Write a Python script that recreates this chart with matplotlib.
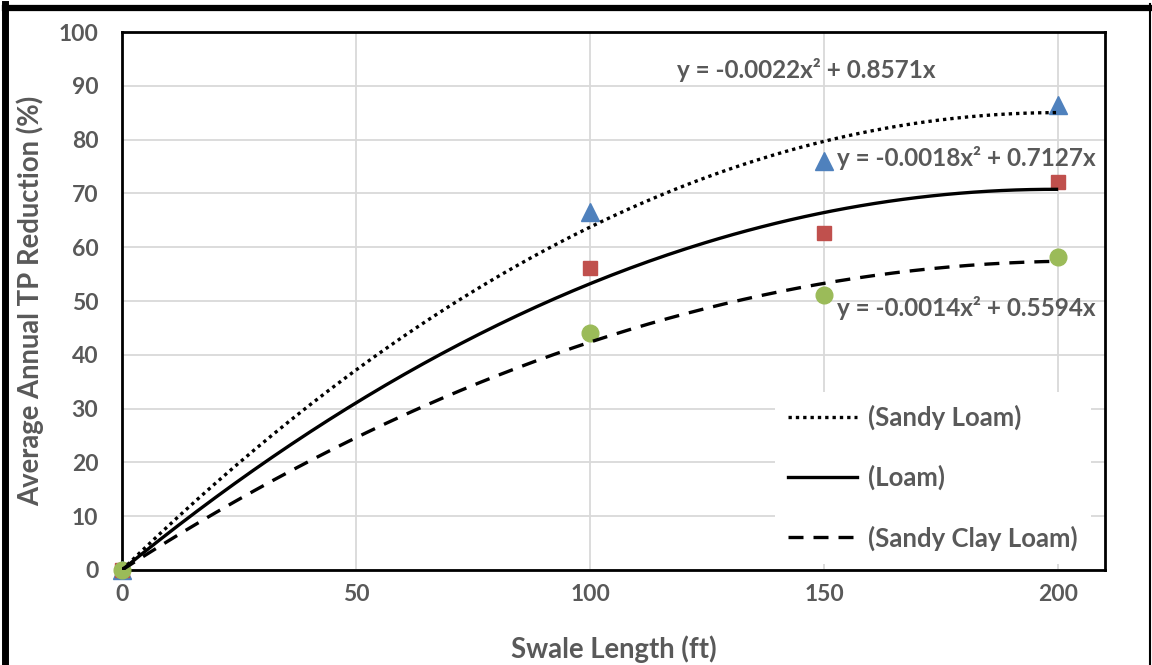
import numpy as np
import matplotlib
matplotlib.use("Agg")
import matplotlib.pyplot as plt
from matplotlib.lines import Line2D

# Data
lengths = [0, 100, 150, 200]
sandy_loam = [0, 66.5, 76.0, 86.4]
loam = [0, 56.1, 62.6, 72.2]
sandy_clay_loam = [0, 44.0, 51.1, 58.2]

equations = [
    "y = -0.0022x² + 0.8571x",
    "y = -0.0018x² + 0.7127x",
    "y = -0.0014x² + 0.5594x",
]
legend_labels = ["(Sandy Loam)", "(Loam)", "(Sandy Clay Loam)"]

text_color = "#595959"
plt.rcParams["font.family"] = ["Lato", "DejaVu Sans"]
plt.rcParams["font.weight"] = "bold"


def fit_through_origin(x, y):
    """Quadratic trend with zero intercept, like Excel's trendline."""
    x = np.asarray(x, float)
    A = np.column_stack([x ** 2, x])
    coef, *_ = np.linalg.lstsq(A, np.asarray(y, float), rcond=None)
    return coef


fig = plt.figure(figsize=(11.52, 6.65), dpi=100)
ax = fig.add_axes([122 / 1152, 95 / 665, 983 / 1152, 538 / 665])

# scatter points
ax.plot(lengths, sandy_loam, "^", color="#4f81bd", ms=13, clip_on=False, zorder=3)
ax.plot(lengths, loam, "s", color="#c0504d", ms=10, clip_on=False, zorder=3)
ax.plot(lengths, sandy_clay_loam, "o", color="#9bbb59", ms=12, clip_on=False, zorder=3)

# trend lines
xs = np.linspace(0, 200, 200)
styles = [dict(ls=(0, (1, 1.2)), lw=2.4),
          dict(ls="-", lw=2.4),
          dict(ls=(0, (4.5, 3)), lw=2.4)]
handles = []
for ys, st in zip([sandy_loam, loam, sandy_clay_loam], styles):
    a, b = fit_through_origin(lengths, ys)
    ax.plot(xs, a * xs ** 2 + b * xs, color="black", zorder=4,
            solid_capstyle="butt", dash_capstyle="butt", **st)
    handles.append(Line2D([], [], color="black", **st))

ax.set_xlim(0, 210)
ax.set_ylim(0, 100)
ax.set_xticks([0, 50, 100, 150, 200])
ax.set_yticks(range(0, 101, 10))
ax.grid(True, color="#d9d9d9", lw=1.3)
ax.set_axisbelow(True)
ax.tick_params(length=0, labelsize=16.5, labelcolor=text_color)
ax.tick_params(axis="y", pad=17)
ax.tick_params(axis="x", pad=10)
for s in ax.spines.values():
    s.set_linewidth(2)
    s.set_color("black")

ax.set_xlabel("Swale Length (ft)", fontsize=19.8, fontweight="bold",
              color=text_color, labelpad=22)
ax.set_ylabel("Average Annual TP Reduction (%)", fontsize=19.8, fontweight="bold",
              color=text_color, labelpad=10)

# equation labels
ax.text(118.6, 92.9, equations[0], fontsize=17.5, color=text_color, ha="left", va="center")
ax.text(152.7, 76.6, equations[1], fontsize=17.5, color=text_color, ha="left", va="center")
ax.text(152.7, 48.7, equations[2], fontsize=17.5, color=text_color, ha="left", va="center")

leg = ax.legend(handles, legend_labels, loc="upper left", bbox_to_anchor=(0.664, 0.331),
                fontsize=18.5, frameon=True, facecolor="white", edgecolor="none",
                framealpha=1, fancybox=False, handlelength=2.7, handletextpad=0.45,
                labelspacing=1.36, borderpad=0.5, borderaxespad=0)
for t in leg.get_texts():
    t.set_color(text_color)
leg.set_zorder(5)

# outer frame of the picture
fig.add_artist(Line2D([0.0045, 0.0045], [0, 0.994], color="black", lw=5,
                      transform=fig.transFigure))
fig.add_artist(Line2D([0.0045, 0.9985], [0.9885, 0.9885], color="black", lw=4.5,
                      transform=fig.transFigure))
fig.add_artist(Line2D([0.9985, 0.9985], [0, 0.994], color="black", lw=1.5,
                      transform=fig.transFigure))

fig.savefig("out.png", dpi=100)
